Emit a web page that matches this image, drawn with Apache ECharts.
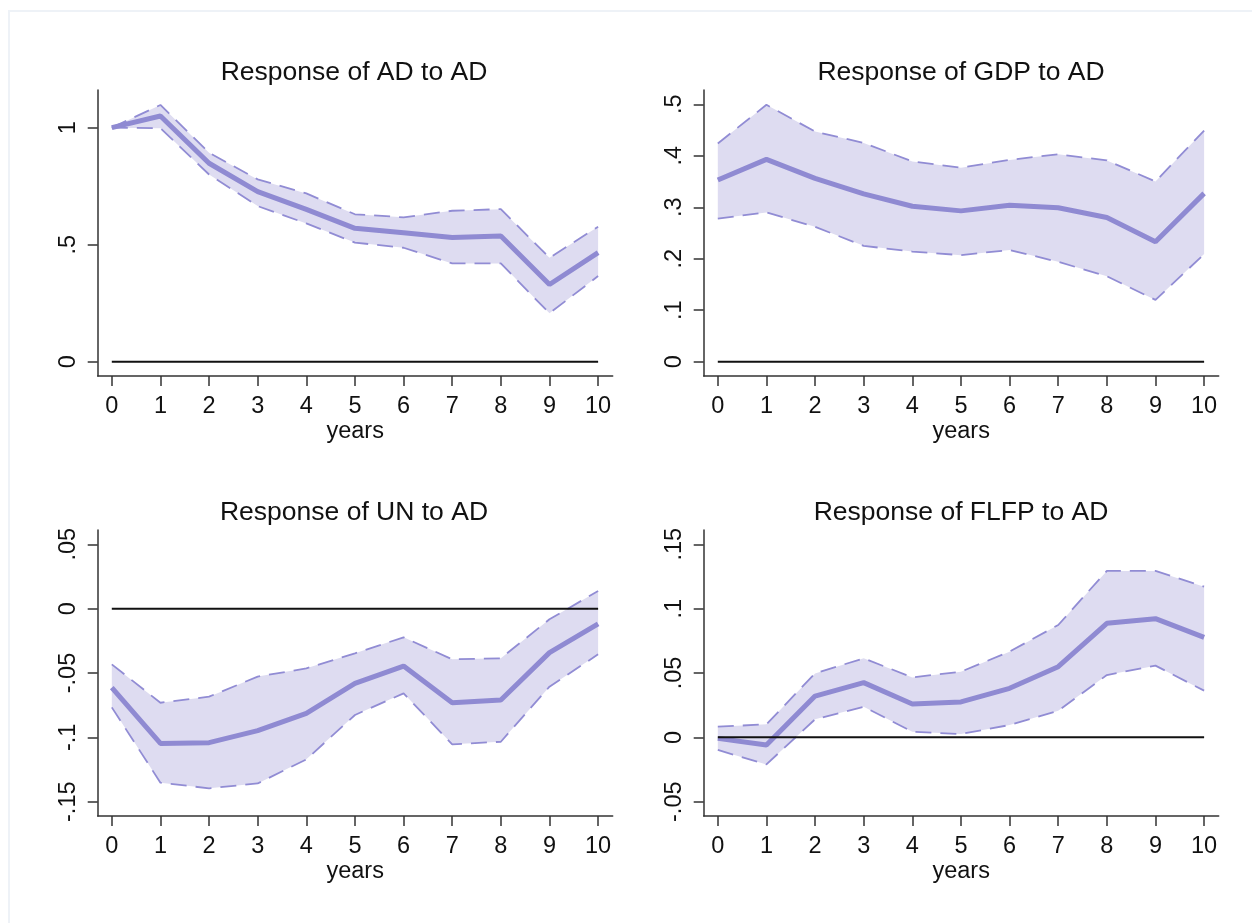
<!DOCTYPE html>
<html>
<head>
<meta charset="utf-8">
<script src="https://cdn.jsdelivr.net/npm/echarts@6/dist/echarts.min.js"></script>
<style>
  html, body { margin: 0; padding: 0; background: #fff; }
  #frame { position: absolute; left: 8px; top: 10px; width: 1260px; height: 930px;
           border-left: 2px solid #eef2f7; border-top: 2px solid #eef2f7; }
  #chart { position: absolute; left: 0; top: 0; width: 1252px; height: 923px; }
</style>
</head>
<body>
<div id="frame"></div>
<div id="chart"></div>
<script>
// ---- data ----
const years = [0, 1, 2, 3, 4, 5, 6, 7, 8, 9, 10];
const xTicks = [0, 1, 2, 3, 4, 5, 6, 7, 8, 9, 10];

const titles = ['Response of AD to AD', 'Response of GDP to AD', 'Response of UN to AD', 'Response of FLFP to AD'];

const adIrf   = [1.000, 1.050, 0.848, 0.727, 0.651, 0.570, 0.551, 0.531, 0.537, 0.330, 0.466];
const adUpper = [1.000, 1.097, 0.893, 0.779, 0.719, 0.630, 0.617, 0.645, 0.652, 0.444, 0.577];
const adLower = [1.000, 0.998, 0.800, 0.665, 0.591, 0.509, 0.487, 0.420, 0.420, 0.207, 0.366];
const adTicks = [0, 0.5, 1];

const gdpIrf   = [0.353, 0.393, 0.356, 0.326, 0.302, 0.293, 0.304, 0.299, 0.280, 0.233, 0.327];
const gdpUpper = [0.424, 0.499, 0.447, 0.425, 0.389, 0.377, 0.392, 0.403, 0.391, 0.350, 0.449];
const gdpLower = [0.278, 0.290, 0.262, 0.225, 0.214, 0.207, 0.217, 0.194, 0.166, 0.120, 0.209];
const gdpTicks = [0, 0.1, 0.2, 0.3, 0.4, 0.5];

const unIrf   = [-0.0614, -0.1047, -0.1041, -0.0948, -0.0813, -0.0580, -0.0446, -0.0731, -0.0710, -0.0342, -0.0119];
const unUpper = [-0.0433, -0.0731, -0.0684, -0.0528, -0.0464, -0.0347, -0.0223, -0.0394, -0.0386, -0.0083, 0.0137];
const unLower = [-0.0767, -0.1352, -0.1396, -0.1358, -0.1171, -0.0826, -0.0658, -0.1054, -0.1034, -0.0606, -0.0355];
const unTicks = [-0.15, -0.1, -0.05, 0, 0.05];

const flfpIrf   = [-0.0008, -0.0060, 0.0321, 0.0425, 0.0259, 0.0275, 0.0381, 0.0549, 0.0886, 0.0922, 0.0777];
const flfpUpper = [0.0083, 0.0101, 0.0497, 0.0614, 0.0466, 0.0510, 0.0666, 0.0873, 0.1293, 0.1293, 0.1171];
const flfpLower = [-0.0098, -0.0210, 0.0140, 0.0238, 0.0044, 0.0026, 0.0096, 0.0207, 0.0484, 0.0557, 0.0363];
const flfpTicks = [-0.05, 0, 0.05, 0.1, 0.15];

// ---- layout / style ----
const FONT = 'Liberation Sans, Arial, sans-serif';
const LINE = '#8f8ad2';
const BAND = '#dedcf1';
const DASH = '#918cd4';
const AXIS = '#333333';

const panels = [
  { irf: adIrf,   up: adUpper,   lo: adLower,   ticks: adTicks,   yMin: -0.061, yMax: 1.161,  left: 97.7,  top: 90,  cx: 354,  ty: 59 },
  { irf: gdpIrf,  up: gdpUpper,  lo: gdpLower,  ticks: gdpTicks,  yMin: -0.0278, yMax: 0.5278, left: 703.7, top: 90,  cx: 961,  ty: 59 },
  { irf: unIrf,   up: unUpper,   lo: unLower,   ticks: unTicks,   yMin: -0.1611, yMax: 0.0611, left: 97.7,  top: 530, cx: 354,  ty: 499 },
  { irf: flfpIrf, up: flfpUpper, lo: flfpLower, ticks: flfpTicks, yMin: -0.0611, yMax: 0.1611, left: 703.7, top: 530, cx: 961,  ty: 499 }
];

function stataLabel(v) {
  let s = String(Math.round(v * 1000) / 1000);
  return s.replace(/^(-?)0\./, '$1.');
}

const option = {
  backgroundColor: 'transparent',
  animation: false,
  title: [],
  grid: [],
  xAxis: [],
  yAxis: [],
  series: []
};

panels.forEach((p, i) => {
  option.title.push({
    text: titles[i], left: p.cx, top: p.ty, textAlign: 'center', padding: 0,
    textStyle: { fontFamily: FONT, fontSize: 26.5, fontWeight: 'normal', color: '#111' }
  });
  option.grid.push({ left: p.left, top: p.top, width: 515, height: 286, outerBoundsMode: 'none', containLabel: false });
  option.xAxis.push({
    type: 'value', gridIndex: i, min: -0.29, max: 10.3,
    name: 'years', nameLocation: 'middle', nameGap: 44,
    nameTextStyle: { fontFamily: FONT, fontSize: 23.5, color: '#111' },
    splitLine: { show: false },
    axisLine: { show: true, onZero: false, lineStyle: { color: AXIS, width: 1.5 } },
    axisTick: { show: true, length: 10, customValues: xTicks, lineStyle: { color: AXIS, width: 1.5 } },
    axisLabel: { customValues: xTicks, margin: 19, fontFamily: FONT, fontSize: 23.5, color: '#111' }
  });
  option.yAxis.push({
    type: 'value', gridIndex: i, min: p.yMin, max: p.yMax,
    splitLine: { show: false },
    axisLine: { show: true, onZero: false, lineStyle: { color: AXIS, width: 1.5 } },
    axisTick: { show: true, length: 10, customValues: p.ticks, lineStyle: { color: AXIS, width: 1.5 } },
    axisLabel: { customValues: p.ticks, rotate: 90, margin: 17, fontFamily: FONT, fontSize: 23.5, color: '#111',
                 formatter: stataLabel }
  });

  // confidence band polygon, drawn through the axis scales
  option.series.push({
    type: 'custom', xAxisIndex: i, yAxisIndex: i, silent: true, z: 1,
    data: years.map((x, k) => [x, p.lo[k], p.up[k]]),
    encode: { x: 0, y: [1, 2] },
    renderItem: function (params, api) {
      if (params.dataIndex !== 0) return null;
      const pts = [];
      for (let k = 0; k < years.length; k++) pts.push(api.coord([years[k], p.up[k]]));
      for (let k = years.length - 1; k >= 0; k--) pts.push(api.coord([years[k], p.lo[k]]));
      return { type: 'polygon', shape: { points: pts }, style: { fill: BAND, stroke: null } };
    }
  });
  // dashed CI lines
  [p.up, p.lo].forEach(arr => {
    option.series.push({
      type: 'line', xAxisIndex: i, yAxisIndex: i, data: years.map((x, k) => [x, arr[k]]),
      symbol: 'none', silent: true, z: 2,
      lineStyle: { color: DASH, width: 1.8, type: [16, 9] }
    });
  });
  // IRF line
  option.series.push({
    type: 'line', xAxisIndex: i, yAxisIndex: i, data: years.map((x, k) => [x, p.irf[k]]),
    symbol: 'none', silent: true, z: 3,
    lineStyle: { color: LINE, width: 5 }
  });
  // zero reference line
  option.series.push({
    type: 'line', xAxisIndex: i, yAxisIndex: i, data: [[years[0], 0], [years[years.length - 1], 0]],
    symbol: 'none', silent: true, z: 4,
    lineStyle: { color: '#111', width: 2 }
  });
});

const chart = echarts.init(document.getElementById('chart'), null, { renderer: 'canvas' });
chart.setOption(option);
</script>
</body>
</html>
